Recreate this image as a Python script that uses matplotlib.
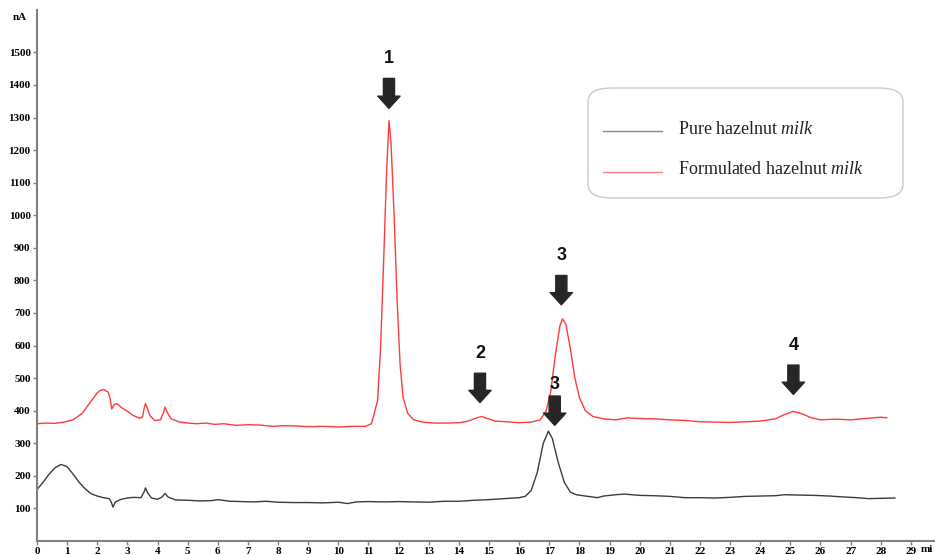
import matplotlib
matplotlib.use("Agg")
import matplotlib.pyplot as plt
from matplotlib.patches import FancyBboxPatch
from matplotlib.lines import Line2D

# Formulated hazelnut milk (red trace)
red_t = [0.0, 0.3, 0.6, 0.9, 1.2, 1.5, 1.8, 2.0, 2.1, 2.2, 2.35, 2.42, 2.48, 2.55, 2.65,
         2.8, 3.0, 3.2, 3.4, 3.5, 3.55, 3.6, 3.65, 3.75, 3.9, 4.1, 4.2, 4.25, 4.32, 4.45,
         4.7, 5.0, 5.3, 5.6, 5.9, 6.2, 6.6, 7.0, 7.4, 7.8, 8.2, 8.6, 9.0, 9.5, 10.0,
         10.5, 10.9, 11.1, 11.3, 11.4, 11.5, 11.6, 11.68, 11.75, 11.85, 11.95, 12.05, 12.15,
         12.3, 12.5, 12.8, 13.2, 13.6, 14.0, 14.3, 14.6, 14.75, 14.95, 15.2, 15.6, 16.0,
         16.4, 16.7, 16.9, 17.05, 17.2, 17.35, 17.44, 17.55, 17.7, 17.85, 18.0, 18.2, 18.45,
         18.8, 19.2, 19.6, 20.0, 20.5, 21.0, 21.5, 22.0, 22.5, 23.0, 23.5, 24.0, 24.5, 24.8,
         25.1, 25.4, 25.7, 26.0, 26.5, 27.0, 27.5, 28.0, 28.2]
red_v = [360, 362, 361, 365, 372, 392, 430, 455, 462, 465, 458, 440, 405, 418, 422,
         410, 398, 385, 377, 380, 405, 422, 410, 385, 370, 372, 395, 411, 395, 375,
         366, 362, 360, 362, 358, 360, 355, 357, 356, 352, 354, 353, 351, 352, 350,
         352, 352, 360, 430, 590, 850, 1130, 1290, 1220, 1000, 740, 540, 440,
         392, 372, 365, 362, 362, 363, 368, 378, 382, 376, 368, 366, 363,
         365, 372, 400, 460, 570, 660, 682, 665, 590, 500, 440, 400, 382,
         375, 372, 378, 376, 375, 372, 370, 366, 365, 364, 366, 368, 375, 388,
         398, 390, 378, 372, 374, 372, 376, 380, 378]

# Pure hazelnut milk (black trace)
black_t = [0.0, 0.2, 0.4, 0.6, 0.8, 1.0, 1.2, 1.4, 1.6, 1.8, 2.0, 2.2, 2.4, 2.47, 2.52,
           2.6, 2.8, 3.0, 3.2, 3.45, 3.55, 3.6, 3.67, 3.8, 4.0, 4.15, 4.25, 4.35, 4.6,
           5.0, 5.4, 5.8, 6.0, 6.4, 6.8, 7.2, 7.6, 8.0, 8.5, 9.0, 9.5, 10.0, 10.3, 10.6,
           11.0, 11.5, 12.0, 12.5, 13.0, 13.5, 14.0, 14.5, 15.0, 15.5, 16.0, 16.2, 16.4,
           16.6, 16.8, 16.97, 17.1, 17.3, 17.5, 17.7, 17.9, 18.2, 18.6, 18.8, 19.2, 19.5,
           20.0, 20.5, 21.0, 21.5, 22.0, 22.5, 23.0, 23.5, 24.0, 24.5, 24.8, 25.3, 25.8,
           26.3, 26.8, 27.2, 27.6, 28.0, 28.47]
black_v = [158, 180, 205, 225, 235, 228, 205, 180, 160, 145, 138, 133, 130, 118, 104,
           120, 128, 132, 134, 133, 150, 163, 148, 132, 128, 135, 146, 135, 126,
           125, 123, 124, 127, 122, 121, 120, 122, 119, 118, 118, 117, 119, 115, 120,
           121, 120, 121, 120, 119, 122, 122, 125, 127, 130, 133, 137, 155,
           210, 300, 337, 315, 240, 180, 150, 142, 138, 133, 138, 142, 144,
           140, 139, 137, 133, 133, 132, 134, 137, 138, 139, 142, 141, 140,
           138, 135, 133, 130, 131, 132]

# peak markers: label, x position, arrow tip y, arrow top y, label y
peak_labels = ["1", "2", "3", "3", "4"]
peak_x = [11.68, 14.7, 17.4, 17.18, 25.1]
peak_tip = [1328, 425, 725, 355, 450]
peak_top = [1420, 515, 815, 445, 540]
peak_text = [1480, 575, 875, 480, 600]

x_ticks = list(range(0, 30))
y_ticks = list(range(100, 1600, 100))

serif = "Liberation Serif"
axis_gray = "#7f7f7f"

plt.rcParams["mathtext.fontset"] = "custom"
plt.rcParams["mathtext.it"] = "Liberation Serif:italic"
plt.rcParams["mathtext.rm"] = "Liberation Serif"

fig = plt.figure(figsize=(9.35, 5.55), dpi=100)
ax = fig.add_axes([37 / 935, 14 / 555, 898 / 935, 531 / 555])

ax.plot(black_t, black_v, color="#3c3c3c", lw=1.0)
ax.plot(red_t, red_v, color="#ff3b3b", lw=1.0)

ax.set_xlim(0, 29.8)
ax.set_ylim(0, 1630)

for s in ["top", "right"]:
    ax.spines[s].set_visible(False)
for s in ["left", "bottom"]:
    ax.spines[s].set_color(axis_gray)
    ax.spines[s].set_linewidth(1.5)

ax.set_xticks(x_ticks)
ax.set_yticks(y_ticks)
ax.tick_params(axis="both", direction="out", color=axis_gray, length=3, width=1,
               labelsize=8, pad=1.5)
for lab in ax.get_xticklabels() + ax.get_yticklabels():
    lab.set_fontfamily(serif)
    lab.set_fontweight("bold")

fig.text(20 / 935, 1 - 17 / 555, "nA", fontsize=8, fontweight="bold", family=serif,
         ha="center", va="center")
fig.text(921 / 935, 1 - 550 / 555, "mi", fontsize=8, fontweight="bold", family=serif,
         ha="left", va="center")

# arrows and peak numbers
for lab, x, tip, top, ty in zip(peak_labels, peak_x, peak_tip, peak_top, peak_text):
    ax.annotate("", xy=(x, tip), xytext=(x, top),
                arrowprops=dict(arrowstyle="simple,head_length=0.55,head_width=1.0,tail_width=0.5",
                                color="#262626", shrinkA=0, shrinkB=0, mutation_scale=16))
    ax.text(x, ty, lab, fontsize=13, fontweight="bold", family="Liberation Sans",
            ha="center", va="center", color="#111111")

# legend box
box = FancyBboxPatch((588 / 935, 1 - 198 / 555), 315 / 935, 110 / 555,
                     boxstyle="round,pad=0,rounding_size=0.025",
                     transform=fig.transFigure, facecolor="white",
                     edgecolor="#c2cad8", lw=1.0)
fig.add_artist(box)
legend_rows = [("#8a8a8a", r"Pure hazelnut $\it{milk}$", 129),
               ("#ff8080", r"Formulated hazelnut $\it{milk}$", 170)]
for col, txt, py in legend_rows:
    fig.add_artist(Line2D([603 / 935, 662 / 935], [1 - (py + 2) / 555, 1 - (py + 2) / 555],
                          transform=fig.transFigure, color=col, lw=1.0))
    fig.text(678 / 935, 1 - py / 555, txt, fontsize=13, family=serif,
             ha="left", va="center", color="#222222")

fig.savefig("out.png", dpi=100)
